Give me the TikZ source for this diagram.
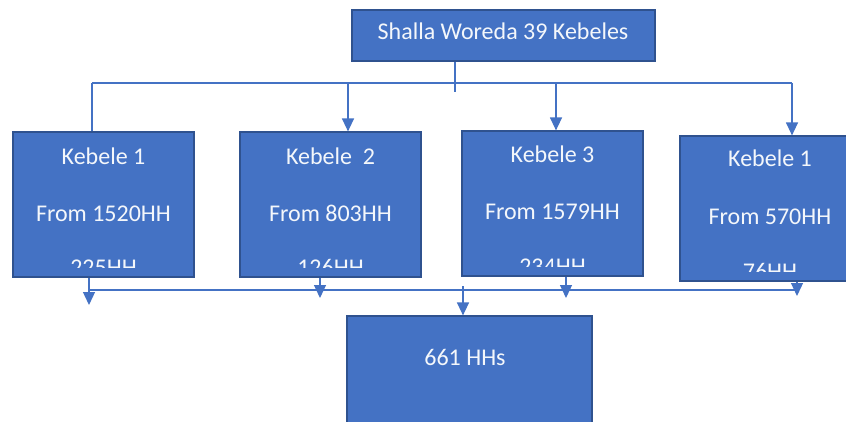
\documentclass[tikz,border=0pt]{standalone}
\usepackage{fontspec}
\setmainfont{Carlito}
\usetikzlibrary{arrows.meta,positioning}
\definecolor{officeblue}{HTML}{4472C4}
\definecolor{edgeblue}{HTML}{2F528F}

\begin{document}
\begin{tikzpicture}[
 x=1pt,y=-1pt,
 box/.style={draw=edgeblue,line width=1.2pt,fill=officeblue,inner sep=0pt},
 kbox/.style={box,minimum width=181pt,minimum height=145pt},
 txt/.style={anchor=base,inner sep=0pt,text=white!94!officeblue,font=\fontsize{24}{28}\selectfont},
 link/.style={officeblue,line width=1.3pt},
 arr/.style={link,-{Triangle[length=13pt,width=12pt]}}
]
\useasboundingbox (0,0) rectangle (846,422);

% boxes
\node[box,minimum width=303pt,minimum height=51pt] (woreda) at (503.5,35.5) {};
\node[txt] (woredatxt) at (503,40) {Shalla Woreda 39 Kebeles};
\node[kbox] (k1) at (103.5,204.5) {};
\node[kbox] (k2) at (330.5,204.5) {};
\node[kbox] (k3) at (552.5,203.5) {};
\node[kbox,minimum width=180pt] (k4) at (770,208.5) {};
\node[box,minimum width=245pt,minimum height=130pt] (total) at (469.5,381) {};

% box texts, last line cut off by the box
\node[txt] (k1a) at (103.5,165) {Kebele 1};
\node[txt] (k1b) at (103.5,222) {From 1520HH};
\node[txt] (k2a) at (330.5,165) {Kebele\ \ 2};
\node[txt] (k2b) at (330.5,222) {From 803HH};
\node[txt] (k3a) at (552.5,163) {Kebele 3};
\node[txt] (k3b) at (552.5,220) {From 1579HH};
\node[txt] (k4a) at (770,167) {Kebele 1};
\node[txt] (k4b) at (770,225) {From 570HH};
\begin{scope}
\clip (0,0) rectangle (846,267);
\node[txt] (k1c) at (103.5,275) {225HH};
\node[txt] (k2c) at (330.5,275) {126HH};
\end{scope}
\begin{scope}
\clip (0,0) rectangle (846,266);
\node[txt] (k3c) at (552.5,274) {234HH};
\end{scope}
\begin{scope}
\clip (0,0) rectangle (846,271);
\node[txt] (k4c) at (770,279) {76HH};
\end{scope}
\node[txt] (totaltxt) at (465,365) {661 HHs};

% top connectors
\coordinate (ts) at (455,92);
\coordinate (tl) at (92,83);
\coordinate (tr) at (792,83);
\coordinate (t2) at (348,83);
\coordinate (t3) at (556,83);
\draw[link] (woreda.south -| ts) -- (ts);
\draw[link] (tl) -- (tr);
\draw[link] (tl) -- (tl |- k1.north);
\draw[arr] (t2) -- (t2 |- k2.north);
\draw[arr] (t3) -- (t3 |- k3.north);
\draw[arr] (tr) -- (tr |- k4.north);

% bottom connectors
\coordinate (e1) at (89,305);
\coordinate (e2) at (320,298);
\coordinate (e3) at (566,298);
\coordinate (e4) at (797,296);
\coordinate (bl) at (89,290);
\coordinate (br) at (797,290);
\coordinate (bm) at (463,286);
\draw[arr] (k1.south -| e1) -- (e1);
\draw[arr] (k2.south -| e2) -- (e2);
\draw[arr] (k3.south -| e3) -- (e3);
\draw[arr] (k4.south -| e4) -- (e4);
\draw[link] (bl) -- (br);
\draw[arr] (bm) -- (bm |- total.north);
\end{tikzpicture}
\end{document}
